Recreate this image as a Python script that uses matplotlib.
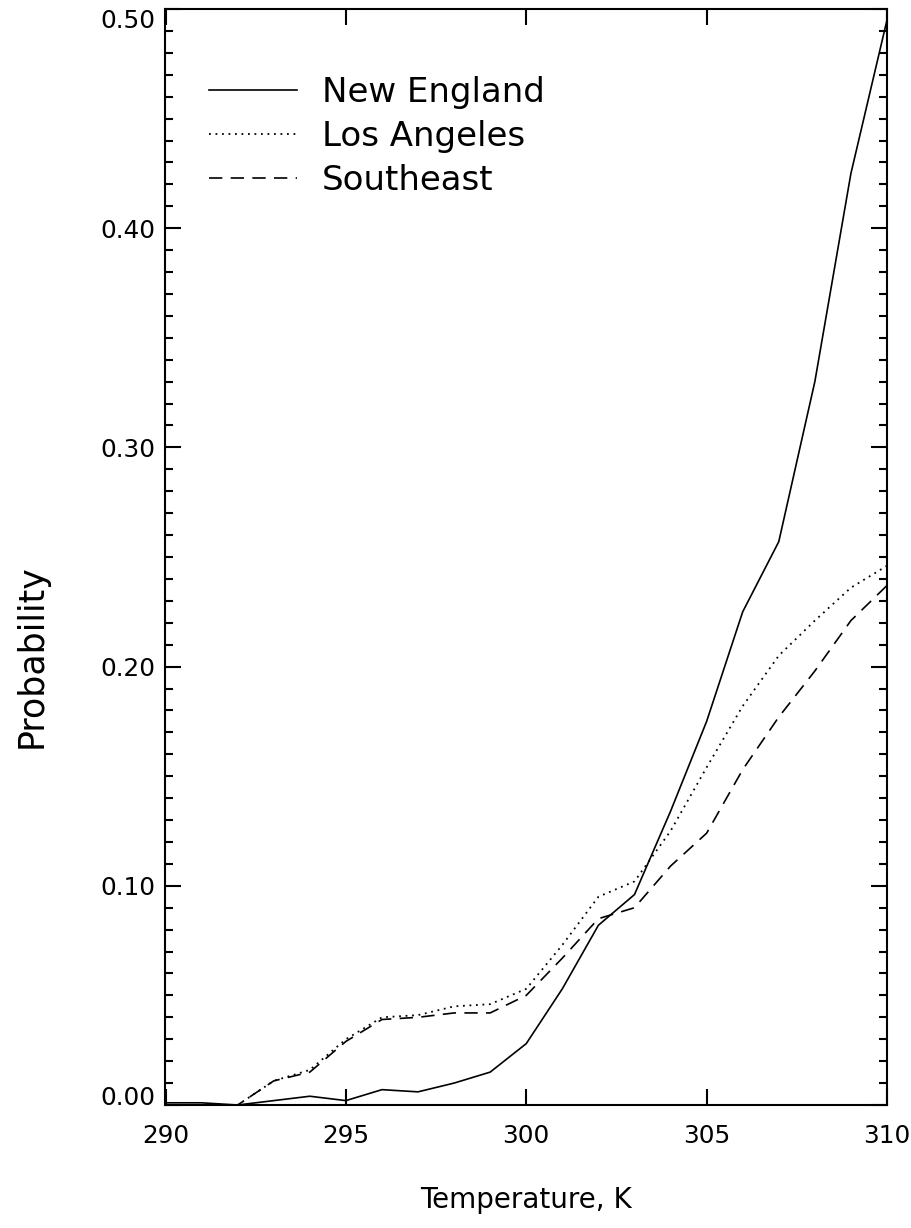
import matplotlib
matplotlib.use("Agg")
import matplotlib.pyplot as plt
from matplotlib.ticker import MultipleLocator, FixedLocator

# ---- data ----
temperature = [290, 291, 292, 293, 294, 295, 296, 297, 298, 299, 300,
               301, 302, 303, 304, 305, 306, 307, 308, 309, 310]
new_england = [0.001, 0.001, 0.000, 0.002, 0.004, 0.002, 0.007, 0.006, 0.010, 0.015, 0.028,
               0.053, 0.082, 0.096, 0.134, 0.175, 0.225, 0.257, 0.330, 0.425, 0.495]
los_angeles = [0.000, 0.000, 0.000, 0.011, 0.016, 0.030, 0.040, 0.041, 0.045, 0.046, 0.053,
               0.073, 0.095, 0.102, 0.125, 0.154, 0.182, 0.205, 0.221, 0.236, 0.246]
southeast = [0.000, 0.000, 0.000, 0.011, 0.015, 0.029, 0.039, 0.040, 0.042, 0.042, 0.050,
             0.067, 0.085, 0.090, 0.109, 0.124, 0.153, 0.177, 0.198, 0.221, 0.237]
series_names = ["New England", "Los Angeles", "Southeast"]
x_ticks = [290, 295, 300, 305, 310]
y_ticks = [0.0, 0.1, 0.2, 0.3, 0.4, 0.5]
y_tick_labels = ["0.00", "0.10", "0.20", "0.30", "0.40", "0.50"]

W, H = 912, 1228
fig = plt.figure(figsize=(W / 100, H / 100), dpi=100)
ax = fig.add_axes([165.5 / W, 1 - 1105 / H, (887 - 165.5) / W, (1105 - 9) / H])

ax.plot(temperature, new_england, color="black", lw=1.2, linestyle="-", label=series_names[0])
ax.plot(temperature, los_angeles, color="black", lw=1.3, dashes=(1.0, 2.6), label=series_names[1])
ax.plot(temperature, southeast, color="black", lw=1.2, dashes=(8.0, 5.0), label=series_names[2])

ax.set_xlim(290, 310)
ax.set_ylim(0, 0.5)

for s in ax.spines.values():
    s.set_linewidth(1.5)

ax.xaxis.set_major_locator(FixedLocator(x_ticks))
ax.set_xticklabels([str(t) for t in x_ticks])
ax.yaxis.set_major_locator(FixedLocator(y_ticks))
ax.set_yticklabels(y_tick_labels)
ax.yaxis.set_minor_locator(MultipleLocator(0.01))

ax.tick_params(axis="both", which="both", direction="in", top=True, right=True, width=1.5)
ax.tick_params(axis="both", which="major", length=11.5, labelsize=17.8)
ax.tick_params(axis="y", which="minor", length=5.8)
ax.tick_params(axis="y", which="major", pad=7)
ax.tick_params(axis="x", which="major", pad=14)

ylabels = ax.get_yticklabels()
ylabels[0].set_va("baseline")
ylabels[-1].set_va("top")

fig.text(32 / W, 1 - 656 / H, "Probability", rotation=90, ha="center", va="center", fontsize=25)
fig.text(526 / W, 1 - 1200 / H, "Temperature, K", ha="center", va="center", fontsize=20)

leg = ax.legend(loc="upper left", bbox_to_anchor=((209 - 165.5) / 721.5, (1105 - 76) / 1096),
                frameon=False, fontsize=24.5, handlelength=2.59, handletextpad=0.73,
                labelspacing=0.32, borderpad=0, borderaxespad=0)

fig.savefig("out.png", dpi=100)
